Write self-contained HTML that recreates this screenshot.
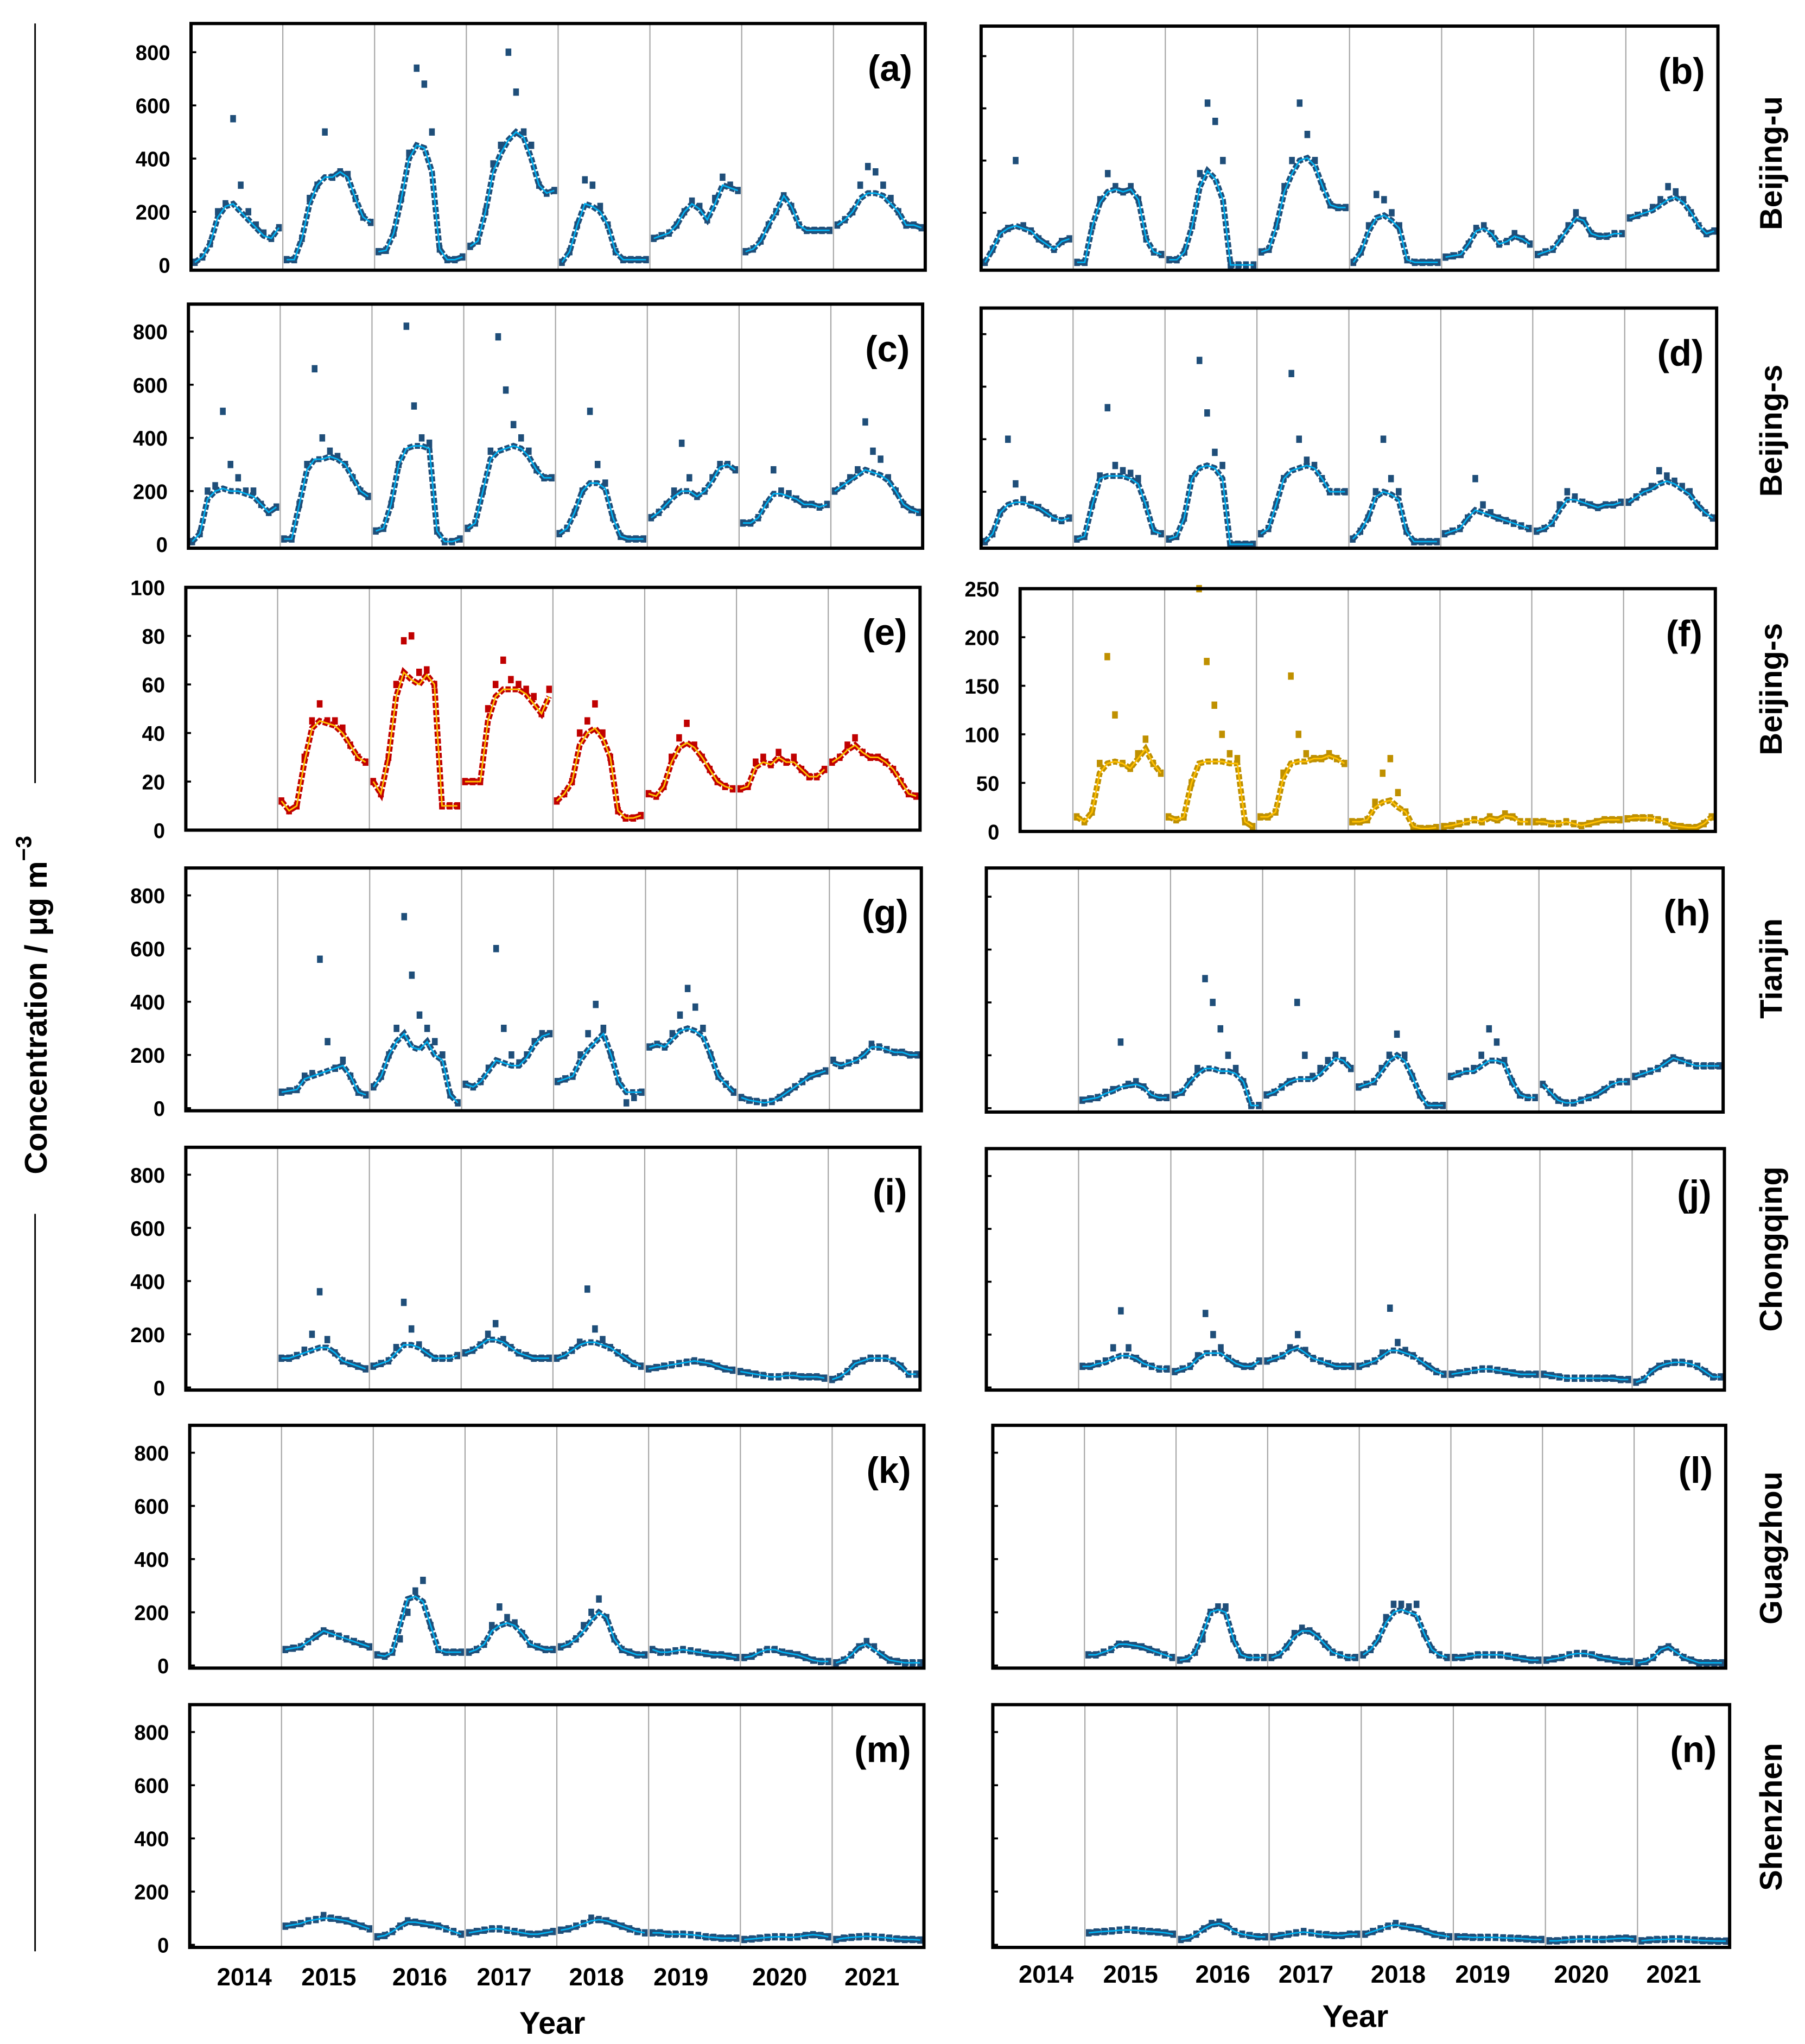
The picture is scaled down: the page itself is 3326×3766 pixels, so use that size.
<!DOCTYPE html>
<html><head><meta charset="utf-8"><style>
html,body{margin:0;padding:0;background:#fff;}
svg{display:block;}
text{font-family:"Liberation Sans",Arial,sans-serif;font-weight:bold;fill:#000;}
</style></head><body>
<svg id="chart" width="3326" height="3766" viewBox="0 0 1389 1566" preserveAspectRatio="none" xmlns="http://www.w3.org/2000/svg">
<line x1="27" y1="18" x2="27" y2="600" stroke="#000" stroke-width="1.2"/>
<line x1="27" y1="930" x2="27" y2="1495" stroke="#000" stroke-width="1.2"/>
<text x="0" y="0" transform="translate(36,770) rotate(-90)" text-anchor="middle" font-size="24">Concentration / μg m<tspan dy="-12" font-size="17">−3</tspan></text>
<text x="425" y="1558" text-anchor="middle" font-size="24">Year</text>
<text x="1043" y="1553" text-anchor="middle" font-size="24">Year</text>
<text transform="translate(1371,125) rotate(-90)" text-anchor="middle" font-size="24">Beijing-u</text>
<text transform="translate(1371,330) rotate(-90)" text-anchor="middle" font-size="24">Beijing-s</text>
<text transform="translate(1371,528) rotate(-90)" text-anchor="middle" font-size="24">Beijing-s</text>
<text transform="translate(1371,742) rotate(-90)" text-anchor="middle" font-size="24">Tianjin</text>
<text transform="translate(1371,957) rotate(-90)" text-anchor="middle" font-size="24">Chongqing</text>
<text transform="translate(1371,1186) rotate(-90)" text-anchor="middle" font-size="24">Guagzhou</text>
<text transform="translate(1371,1392) rotate(-90)" text-anchor="middle" font-size="24">Shenzhen</text>
</svg>
<script>
const years = [2014,2015,2016,2017,2018,2019,2020,2021];
const N = null;
const none12 = [N,N,N,N,N,N,N,N,N,N,N,N];
const leftYearLabels = ["2014","2015","2016","2017","2018","2019","2020","2021"];
const ticks800 = [0,200,400,600,800];
const ticks100 = [0,20,40,60,80,100];
const ticks250 = [0,50,100,150,200,250];

const aScatter = [10,30,80,200,230,550,300,200,150,120,100,140, 20,20,100,250,300,500,330,350,340,250,180,160, 50,55,120,250,420,740,680,500,60,20,20,30, 70,90,200,380,450,800,650,500,450,300,270,280, 10,50,150,320,300,220,150,50,20,20,20,20, 100,110,120,150,200,240,220,170,250,330,300,280, 50,60,90,150,200,260,220,150,130,130,130,130, 150,170,200,300,370,350,300,250,200,150,150,140];
const aLine = [10,30,80,180,220,230,200,170,140,110,100,140, 20,20,100,230,300,330,330,350,330,250,180,160, 50,55,120,250,400,450,440,350,60,20,20,30, 70,90,200,350,420,470,500,480,400,300,270,280, 10,50,150,230,220,200,150,50,20,20,20,20, 100,110,120,150,200,230,210,170,230,300,290,280, 50,60,90,150,200,260,220,150,130,130,130,130, 150,170,200,250,270,270,260,230,200,150,150,140];
const bScatter = [10,60,120,140,400,150,130,100,80,60,90,100, 10,10,150,250,350,300,280,300,250,100,50,40, 20,20,50,150,350,620,550,400,0,0,0,0, 50,60,150,300,400,620,500,400,300,230,220,220, 10,50,150,270,250,200,150,20,10,10,10,10, 30,35,40,80,140,150,120,80,90,120,100,80, 40,50,60,100,150,200,170,120,110,110,120,120, 180,190,200,220,250,300,280,250,200,150,120,130];
const bLine = [10,60,120,140,150,140,130,100,80,60,90,100, 10,10,150,240,280,290,280,290,250,100,50,40, 20,20,50,150,300,360,330,250,0,0,0,0, 50,60,150,280,350,400,410,380,300,230,220,220, 10,50,130,180,190,170,140,20,10,10,10,10, 30,35,40,80,130,140,120,80,90,110,100,80, 40,50,60,100,140,180,170,120,110,110,120,120, 180,190,200,210,230,250,260,240,200,150,120,130];
const cScatter = [10,40,200,220,500,300,250,200,200,150,120,140, 20,20,150,300,660,400,350,330,300,250,200,180, 50,60,150,300,820,520,400,380,50,10,10,20, 60,80,200,350,780,580,450,400,350,280,250,250, 40,60,120,200,500,300,230,100,30,20,20,20, 100,120,150,200,380,250,180,200,250,300,300,280, 80,80,100,150,280,200,190,170,150,150,140,150, 200,220,250,280,460,350,320,250,200,150,130,120];
const cLine = [10,40,170,200,210,200,200,190,180,150,120,140, 20,20,150,280,320,320,330,320,300,250,200,180, 50,60,150,300,360,370,370,360,50,10,10,20, 60,80,200,320,350,360,370,360,330,280,250,250, 40,60,120,200,230,230,210,100,30,20,20,20, 100,120,150,180,200,200,180,200,240,290,300,280, 80,80,100,150,190,190,180,170,150,150,140,150, 200,220,240,260,280,270,260,240,200,150,130,120];
const dScatter = [10,40,120,400,230,170,150,140,120,100,90,100, 20,30,150,260,520,300,280,270,250,150,50,40, 20,30,100,250,700,500,350,300,0,0,0,0, 40,60,150,250,650,400,320,300,250,200,200,200, 20,50,100,200,400,250,200,50,10,10,10,10, 40,50,60,100,250,150,120,100,90,80,70,60, 50,60,80,150,200,180,160,150,140,150,150,160, 160,180,200,220,280,260,240,220,200,150,120,100];
const dLine = [10,40,120,150,160,160,150,140,120,100,90,100, 20,30,150,250,260,260,260,250,230,150,50,40, 20,30,100,250,290,300,290,250,0,0,0,0, 40,60,150,250,280,290,300,290,250,200,200,200, 20,50,100,180,200,190,170,50,10,10,10,10, 40,50,60,100,130,120,110,100,90,80,70,60, 50,60,80,130,170,170,160,150,140,150,150,160, 160,180,200,210,230,240,230,210,190,150,120,100];
const eScatter = [...none12, 12,8,10,30,45,52,45,45,42,35,30,28, 20,15,30,60,78,80,65,66,60,10,10,10, 20,20,20,50,60,70,62,60,58,55,48,58, 12,15,20,40,45,52,40,30,8,5,5,6, 15,14,18,30,38,44,35,30,25,20,18,17, 17,18,28,30,27,32,28,30,25,22,22,25, 28,30,35,38,32,30,30,28,25,20,15,14];
const eLine = [...none12, 12,8,10,28,42,45,44,43,40,35,30,28, 20,15,30,55,65,62,60,64,60,10,10,10, 20,20,20,45,55,58,58,58,56,52,48,55, 12,15,20,35,40,42,38,30,8,5,5,6, 15,14,18,28,34,36,34,30,25,20,18,17, 17,18,26,28,27,30,28,28,25,22,22,25, 28,30,33,35,32,30,30,28,25,20,15,14];
const fScatter = [...none12, 15,10,20,70,180,120,70,65,80,95,70,60, 15,12,15,50,250,175,130,100,80,75,10,5, 15,15,20,60,160,100,80,75,75,80,75,70, 10,10,12,30,60,75,40,20,5,3,3,4, 5,6,8,10,12,10,15,12,18,15,10,10, 10,10,8,8,10,8,6,8,10,12,12,12, 13,14,14,14,12,10,6,5,4,4,8,15];
const fLine = [...none12, 15,10,20,60,70,72,70,65,75,85,70,60, 15,12,15,50,70,72,72,72,70,70,10,5, 15,15,20,55,70,72,72,75,75,78,75,70, 10,10,12,25,30,32,25,20,5,3,3,4, 5,6,8,10,12,10,14,12,16,15,10,10, 10,10,8,8,10,8,6,8,10,12,12,12, 13,14,14,14,12,10,6,5,4,4,8,15];
const gScatter = [...none12, 60,65,70,120,130,560,250,150,180,120,60,50, 80,120,200,300,720,500,350,300,250,200,50,20, 90,80,100,150,600,300,200,170,200,250,280,280, 100,110,120,200,280,390,300,200,100,20,40,60, 230,240,230,280,350,450,380,300,200,120,90,60, 40,30,25,20,25,40,60,80,100,120,130,140, 180,160,170,180,200,240,230,220,210,210,200,200];
const gLine = [...none12, 60,65,70,110,120,130,140,150,160,120,60,50, 80,120,200,250,280,230,220,250,200,180,50,20, 90,80,100,140,180,170,160,160,190,240,270,280, 100,110,120,180,220,250,280,200,100,60,60,60, 230,240,230,260,290,300,290,270,200,120,90,60, 40,30,25,20,25,40,60,80,100,120,130,140, 170,160,170,180,200,230,230,220,210,210,200,200];
const hScatter = [...none12, 30,35,40,60,70,250,90,100,80,50,40,40, 50,60,100,150,490,400,300,200,150,100,10,10, 50,60,80,100,400,200,120,150,180,200,180,150, 80,90,100,150,200,280,200,120,50,10,10,10, 120,130,140,150,200,300,250,180,100,50,40,40, 90,60,30,20,20,30,40,50,70,90,100,100, 120,130,140,150,170,190,180,170,160,160,160,160];
const hLine = [...none12, 30,35,40,55,65,80,85,90,80,50,40,40, 50,60,100,130,150,150,140,140,130,100,10,10, 50,60,80,100,110,110,110,130,160,190,180,150, 80,90,100,140,180,200,180,120,50,10,10,10, 120,130,140,140,160,180,180,170,100,50,40,40, 90,60,30,20,20,30,40,50,70,90,100,100, 120,130,140,150,170,190,180,170,160,160,160,160];
const iScatter = [...none12, 110,110,120,140,200,360,180,130,100,90,80,70, 80,90,100,150,320,220,160,130,110,110,110,120, 130,140,160,200,240,180,150,130,120,110,110,110, 110,120,140,170,370,220,180,150,130,110,90,80, 70,75,80,85,90,95,100,95,90,80,70,65, 60,55,50,45,40,40,45,45,40,40,40,35, 30,40,60,90,100,110,110,110,100,80,50,50];
const iLine = [...none12, 110,110,120,130,140,150,150,130,100,90,80,70, 80,90,100,130,160,160,150,130,110,110,110,120, 130,140,160,180,180,170,150,130,120,110,110,110, 110,120,140,160,170,170,160,150,130,110,90,80, 70,75,80,85,90,95,100,95,90,80,70,65, 60,55,50,45,40,40,45,45,40,40,40,35, 30,40,60,90,100,110,110,110,100,80,50,50];
const jScatter = [...none12, 80,80,90,100,150,290,150,110,90,80,70,70, 60,70,80,120,280,200,150,110,90,80,80,100, 100,110,120,150,200,140,110,100,90,80,80,80, 80,90,100,130,300,170,140,120,100,80,60,50, 50,55,60,65,70,70,65,60,55,50,50,50, 50,45,40,35,35,35,35,35,35,35,30,30, 20,30,60,80,90,95,95,90,80,60,40,40];
const jLine = [...none12, 80,80,90,95,110,120,120,110,90,80,70,70, 60,70,80,110,130,130,130,110,90,80,80,100, 100,110,120,140,150,130,110,100,90,80,80,80, 80,90,100,120,140,140,130,120,100,80,60,50, 50,55,60,65,70,70,65,60,55,50,50,50, 50,45,40,35,35,35,35,35,35,35,30,30, 20,30,60,80,90,95,95,90,80,60,40,40];
const kScatter = [...none12, 60,65,70,90,110,130,120,110,100,90,80,70, 40,35,50,100,200,280,320,150,60,50,50,50, 50,60,80,150,220,180,160,120,80,70,60,60, 70,80,100,150,200,250,180,100,60,50,40,40, 60,50,50,55,60,55,50,45,40,40,35,30, 30,35,50,60,60,50,45,40,30,20,15,15, 10,20,40,70,90,70,40,20,15,10,10,10];
const kLine = [...none12, 60,65,70,90,110,130,120,110,100,90,80,70, 40,35,50,150,250,260,240,150,60,50,50,50, 50,60,80,130,150,160,150,120,80,70,60,60, 70,80,100,130,170,200,180,100,60,50,40,40, 60,50,50,55,60,55,50,45,40,40,35,30, 30,35,50,60,60,50,45,40,30,20,15,15, 10,20,40,70,80,60,40,20,15,10,10,10];
const lScatter = [...none12, 40,40,50,60,80,80,75,70,60,50,40,30, 20,25,50,100,200,220,220,100,40,30,30,30, 30,40,70,120,140,130,110,80,50,40,30,30, 40,60,100,180,230,230,220,230,120,60,40,30, 30,30,35,40,40,40,40,35,30,25,20,20, 20,25,30,40,45,45,40,30,25,20,15,15, 10,15,30,60,70,50,30,20,10,10,10,10];
const lLine = [...none12, 40,40,50,60,80,80,75,70,60,50,40,30, 20,25,50,120,200,210,200,100,40,30,30,30, 30,40,70,110,130,130,110,80,50,40,30,30, 40,60,100,160,200,210,200,190,120,60,40,30, 30,30,35,40,40,40,40,35,30,25,20,20, 20,25,30,40,45,45,40,30,25,20,15,15, 10,15,30,60,70,50,30,20,10,10,10,10];
const mScatter = [...none12, 70,75,80,90,95,110,100,95,90,80,70,60, 30,35,50,70,90,85,80,75,70,60,50,40, 45,50,55,60,60,55,50,45,40,40,45,50, 55,60,70,80,100,95,90,80,70,60,50,45, 45,45,40,40,40,38,35,30,28,25,25,25, 20,22,25,28,30,30,28,30,35,38,35,30, 20,25,28,30,32,30,28,25,22,20,20,18];
const mLine = [...none12, 70,75,80,90,95,100,100,95,90,80,70,60, 30,35,50,70,85,85,80,75,70,60,50,40, 45,50,55,60,60,55,50,45,40,40,45,50, 55,60,70,80,90,95,90,80,70,60,50,45, 45,45,40,40,40,38,35,30,28,25,25,25, 20,22,25,28,30,30,28,30,35,38,35,30, 20,25,28,30,32,30,28,25,22,20,20,18];
const nScatter = [...none12, 45,48,50,52,55,58,55,52,50,48,45,40, 20,25,40,60,80,85,70,50,40,35,30,30, 30,35,40,45,50,45,40,38,35,35,40,40, 40,50,60,70,80,70,65,60,50,40,35,30, 30,30,28,28,28,28,26,25,24,22,20,20, 15,15,18,20,22,22,20,20,22,24,25,22, 15,18,20,20,22,22,20,18,16,15,14,14];
const nLine = [...none12, 45,48,50,52,55,56,55,52,50,48,45,40, 20,25,40,60,75,80,70,50,40,35,30,30, 30,35,40,45,48,45,40,38,35,35,40,40, 40,50,60,70,75,70,65,60,50,40,35,30, 30,30,28,28,28,28,26,25,24,22,20,20, 15,15,18,20,22,22,20,20,22,24,25,22, 15,18,20,20,22,22,20,18,16,15,14,14];

const NS = "http://www.w3.org/2000/svg";
const svg = document.getElementById("chart");
function mk(tag, attrs){ const e=document.createElementNS(NS,tag); for(const k in attrs) e.setAttribute(k,attrs[k]); return e; }

const panels = [
 {id:"a",s:aScatter,l:aLine,x0:147,x1:712,y0:18,y1:207,tx0:147,tw:565,ticks:ticks800,vTop:800,yTop:40,yZero:203,labels:true,sc:"#1f4e79",lc:"#00b0f0"},
 {id:"b",s:bScatter,l:bLine,x0:755,x1:1322,y0:20,y1:207,tx0:755,tw:567,ticks:ticks800,vTop:800,yTop:43,yZero:203,labels:false,sc:"#1f4e79",lc:"#00b0f0"},
 {id:"c",s:cScatter,l:cLine,x0:145,x1:710,y0:233,y1:420,tx0:145,tw:565,ticks:ticks800,vTop:800,yTop:254,yZero:417,labels:true,sc:"#1f4e79",lc:"#00b0f0"},
 {id:"d",s:dScatter,l:dLine,x0:755,x1:1321,y0:236,y1:420,tx0:755,tw:566,ticks:ticks800,vTop:800,yTop:256,yZero:417,labels:false,sc:"#1f4e79",lc:"#00b0f0"},
 {id:"e",s:eScatter,l:eLine,x0:143,x1:708,y0:450,y1:636,tx0:143,tw:565,ticks:ticks100,vTop:100,yTop:450,yZero:636,labels:true,sc:"#c00000",lc:"#ffc000"},
 {id:"f",s:fScatter,l:fLine,x0:785,x1:1320,y0:451,y1:637,tx0:755,tw:565,ticks:ticks250,vTop:250,yTop:451,yZero:637,labels:true,sc:"#bf9000",lc:"#ffc000"},
 {id:"g",s:gScatter,l:gLine,x0:143,x1:709,y0:665,y1:851,tx0:143,tw:566,ticks:ticks800,vTop:800,yTop:686,yZero:849,labels:true,sc:"#1f4e79",lc:"#00b0f0"},
 {id:"h",s:hScatter,l:hLine,x0:759,x1:1326,y0:665,y1:852,tx0:759,tw:567,ticks:ticks800,vTop:800,yTop:687,yZero:849,labels:false,sc:"#1f4e79",lc:"#00b0f0"},
 {id:"i",s:iScatter,l:iLine,x0:143,x1:708,y0:879,y1:1065,tx0:143,tw:565,ticks:ticks800,vTop:800,yTop:900,yZero:1063,labels:true,sc:"#1f4e79",lc:"#00b0f0"},
 {id:"j",s:jScatter,l:jLine,x0:759,x1:1327,y0:880,y1:1065,tx0:759,tw:568,ticks:ticks800,vTop:800,yTop:901,yZero:1063,labels:false,sc:"#1f4e79",lc:"#00b0f0"},
 {id:"k",s:kScatter,l:kLine,x0:146,x1:711,y0:1092,y1:1278,tx0:146,tw:565,ticks:ticks800,vTop:800,yTop:1113,yZero:1276,labels:true,sc:"#1f4e79",lc:"#00b0f0"},
 {id:"l",s:lScatter,l:lLine,x0:764,x1:1328,y0:1092,y1:1278,tx0:764,tw:564,ticks:ticks800,vTop:800,yTop:1113,yZero:1276,labels:false,sc:"#1f4e79",lc:"#00b0f0"},
 {id:"m",s:mScatter,l:mLine,x0:146,x1:711,y0:1306,y1:1492,tx0:146,tw:565,ticks:ticks800,vTop:800,yTop:1327,yZero:1490,labels:true,sc:"#1f4e79",lc:"#00b0f0"},
 {id:"n",s:nScatter,l:nLine,x0:764,x1:1331,y0:1306,y1:1492,tx0:764,tw:567,ticks:ticks800,vTop:800,yTop:1327,yZero:1490,labels:false,sc:"#1f4e79",lc:"#00b0f0"}
];

panels.forEach(p=>{
  const g = mk("g",{});
  
  
  svg.appendChild(g);
  const xS = t => p.tx0 + (t-2014)/8*p.tw;
  const yS = v => p.yZero - v/p.vTop*(p.yZero-p.yTop);
  for(let yi=1; yi<years.length; yi++){
    const x = xS(years[yi]);
    if(x<=p.x0+1) continue;
    const gl = mk("line",{x1:x,x2:x,y1:p.y0,y2:p.y1,stroke:"#a6a6a6","stroke-width":0.9});
    
    
    g.appendChild(gl);
  }
  p.ticks.forEach(tv=>{
    const y = yS(tv);
    const tk = mk("line",{x1:p.x0,x2:p.x0+4,y1:y,y2:y,stroke:"#000","stroke-width":1.5});
    
    
    g.appendChild(tk);
    if(p.labels){
      const tl = mk("text",{x:p.x0-16,y:y+6,"text-anchor":"end","font-size":16});
      tl.textContent = tv;
      
      
      g.appendChild(tl);
    }
  });
  years.forEach((yr,yi)=>{
    const lp=[], sp=[];
    for(let m=0;m<12;m++){
      const i=yi*12+m, t=yr+(m+0.5)/12;
      if(p.l[i]!=null) lp.push([xS(t),yS(p.l[i])]);
      if(p.s[i]!=null) sp.push([xS(t),yS(p.s[i])]);
    }
    if(lp.length){
      const band = mk("polyline",{points:lp.map(q=>q.join(",")).join(" "),fill:"none",stroke:p.sc,"stroke-width":4.5,"stroke-dasharray":"4 1.5"});
      
      
      g.appendChild(band);
    }
    sp.forEach(q=>{
      const r = mk("rect",{x:q[0]-2.2,y:q[1]-2.8,width:4.4,height:5.6,fill:p.sc});
      
      
      g.appendChild(r);
    });
    if(lp.length){
      const ln = mk("polyline",{points:lp.map(q=>q.join(",")).join(" "),fill:"none",stroke:p.lc,"stroke-width":1.2});
      
      
      g.appendChild(ln);
    }
  });
  const box = mk("rect",{x:p.x0,y:p.y0,width:p.x1-p.x0,height:p.y1-p.y0,fill:"none",stroke:"#000","stroke-width":2.5});
  
  
  g.appendChild(box);
  const pl = mk("text",{x:p.x1-10,y:p.y0+44,"text-anchor":"end","font-size":28});
  pl.textContent = "("+p.id+")";
  
  
  g.appendChild(pl);
});

const leftYearX = [188,253,323,388,459,524,600,671];
const rightYearX = [805,870,941,1005,1076,1141,1217,1288];
leftYearLabels.forEach((lab,i)=>{
  const t1 = mk("text",{x:leftYearX[i],y:1521,"text-anchor":"middle","font-size":19});
  t1.textContent = lab;
  
  
  svg.appendChild(t1);
  const t2 = mk("text",{x:rightYearX[i],y:1519,"text-anchor":"middle","font-size":19});
  t2.textContent = lab;
  
  
  svg.appendChild(t2);
});
</script>
</body></html>
